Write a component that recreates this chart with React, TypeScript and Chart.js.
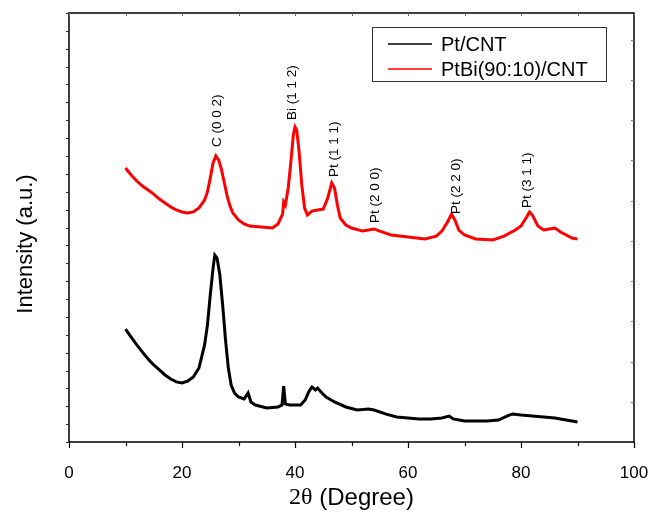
import React, { useEffect, useRef } from 'react';
import { Chart, registerables } from 'chart.js';

Chart.register(...registerables);

const FONT = '"Liberation Sans", Arial, Helvetica, sans-serif';

const seriesNames = ['Pt/CNT', 'PtBi(90:10)/CNT'];
const seriesColors = ['#000000', '#ff0000'];

const ptCntTheta = [
  10, 11, 12, 13, 14, 15, 16, 17, 18, 19, 20, 21, 22, 23, 24, 24.5, 25, 25.5, 25.8, 26.2,
  26.7, 27.2, 27.7, 28.2, 28.7, 29.3, 30, 31, 31.7, 32.2, 33, 35, 37, 37.7, 38, 38.3,
  39, 41, 41.8, 42.5, 43, 43.6, 44, 44.6, 45.5, 47, 49, 51, 53, 54, 56, 58, 60, 62,
  64, 66, 67.3, 68, 70, 72, 74, 76, 77.5, 78.5, 80, 82, 84, 86, 88, 90,
];
const ptCntIntensity = [
  632, 587, 543, 503, 464, 431, 403, 375, 352, 336, 330, 341, 364, 414, 543, 654, 822, 973, 1046, 1029,
  934, 766, 571, 414, 319, 274, 252, 241, 274, 224, 207, 190, 196, 207, 313, 213,
  207, 207, 235, 285, 308, 291, 302, 280, 252, 224, 196, 179, 185, 179, 157, 140, 134, 129,
  129, 134, 145, 129, 117, 117, 117, 123, 145, 157, 151, 145, 140, 134, 123, 112,
];

const ptBiTheta = [
  10, 11, 12, 13, 14, 15, 16, 17, 18, 19, 20, 21, 22, 23, 24, 24.5, 25, 25.5, 26, 26.5,
  27, 27.5, 28, 28.5, 29, 30, 31, 32, 34, 36, 37, 37.8, 38, 38.3, 38.8, 39.3, 39.7, 40,
  40.3, 40.7, 41.2, 41.7, 42.2, 43, 44, 45, 45.8, 46.5, 47, 47.5, 48, 49, 50, 52, 54,
  55, 57, 60, 63, 65, 66, 67, 67.7, 68.3, 69, 70, 72, 75, 77, 79, 80, 81, 81.5, 82,
  83, 84, 85, 86, 87, 88, 89, 90,
];
const ptBiIntensity = [
  1533, 1494, 1460, 1432, 1410, 1387, 1359, 1337, 1315, 1298, 1287, 1281, 1287, 1309, 1354, 1399, 1477, 1561, 1600, 1577,
  1522, 1449, 1376, 1320, 1281, 1242, 1220, 1208, 1203, 1197, 1220, 1275, 1343, 1326, 1421, 1577, 1717, 1762,
  1745, 1633, 1438, 1309, 1270, 1292, 1298, 1303, 1365, 1449, 1421, 1326, 1253, 1214, 1197, 1180, 1192,
  1180, 1158, 1147, 1136, 1152, 1180, 1231, 1275, 1242, 1186, 1158, 1136, 1130, 1152, 1186, 1208, 1259, 1287, 1270,
  1208, 1186, 1192, 1197, 1175, 1158, 1141, 1136,
];

const peakLabels = ['C (0 0 2)', 'Bi (1 1 2)', 'Pt (1 1 1)', 'Pt (2 0 0)', 'Pt (2 2 0)', 'Pt (3 1 1)'];
const peakTheta = [26.2, 39.6, 47.0, 54.2, 68.5, 81.2];
const peakIntensity = [1650, 1801, 1482, 1225, 1275, 1309];

const xTickValues = [0, 10, 20, 30, 40, 50, 60, 70, 80, 90, 100];

const decorPlugin = {
  id: 'decor',
  afterDraw(chart: any) {
    const ctx = chart.ctx as CanvasRenderingContext2D;
    const { left, right, top, bottom } = chart.chartArea;
    const xs = chart.scales.x;
    const ys = chart.scales.y;
    ctx.save();

    // frame
    ctx.strokeStyle = '#000';
    ctx.lineWidth = 1.5;
    ctx.strokeRect(left, top, right - left, bottom - top);

    // bottom ticks (outward)
    ctx.lineWidth = 1.2;
    for (const v of xTickValues) {
      const px = Math.round(xs.getPixelForValue(v)) + 0.5;
      const len = v % 20 === 0 ? 6 : 4;
      ctx.beginPath();
      ctx.moveTo(px, bottom);
      ctx.lineTo(px, bottom + len);
      ctx.stroke();
    }
    // top ticks (inward, faint)
    ctx.strokeStyle = '#666';
    ctx.lineWidth = 1;
    for (const v of xTickValues) {
      const px = Math.round(xs.getPixelForValue(v)) + 0.5;
      ctx.beginPath();
      ctx.moveTo(px, top);
      ctx.lineTo(px, top + 3);
      ctx.stroke();
    }
    // left ticks (outward)
    ctx.strokeStyle = '#222';
    for (let v = 0; v <= 2400; v += 100) {
      const py = Math.round(ys.getPixelForValue(v)) + 0.5;
      ctx.beginPath();
      ctx.moveTo(left - 3, py);
      ctx.lineTo(left, py);
      ctx.stroke();
    }
    // right ticks (inward, faint)
    ctx.strokeStyle = '#777';
    for (let v = 225; v < 2400; v += 225) {
      const py = Math.round(ys.getPixelForValue(v)) + 0.5;
      ctx.beginPath();
      ctx.moveTo(right - 3, py);
      ctx.lineTo(right, py);
      ctx.stroke();
    }

    // peak labels
    ctx.fillStyle = '#000';
    ctx.font = `13.5px ${FONT}`;
    ctx.textAlign = 'left';
    ctx.textBaseline = 'middle';
    peakLabels.forEach((t, i) => {
      const px = xs.getPixelForValue(peakTheta[i]);
      const py = ys.getPixelForValue(peakIntensity[i]);
      ctx.save();
      ctx.translate(px, py);
      ctx.rotate(-Math.PI / 2);
      ctx.fillText(t, 0, 0);
      ctx.restore();
    });

    // legend
    const bx = 372, by = 27, bw = 234, bh = 54;
    ctx.strokeStyle = '#333';
    ctx.lineWidth = 1;
    ctx.strokeRect(bx + 0.5, by + 0.5, bw, bh);
    ctx.font = `20px ${FONT}`;
    ctx.textBaseline = 'middle';
    const rows = [44, 69];
    seriesNames.forEach((name, i) => {
      ctx.strokeStyle = seriesColors[i];
      ctx.lineWidth = 1.5;
      ctx.beginPath();
      ctx.moveTo(388, rows[i]);
      ctx.lineTo(432, rows[i]);
      ctx.stroke();
      ctx.fillStyle = '#000';
      ctx.fillText(name, 441, rows[i] + 1);
    });

    // x title: 2θ (Degree)
    const part1 = '2θ';
    const part2 = ' (Degree)';
    const serif = `24px "Liberation Serif", "Times New Roman", serif`;
    const sans = `24px ${FONT}`;
    ctx.font = serif;
    const w1 = ctx.measureText(part1).width;
    ctx.font = sans;
    const w2 = ctx.measureText(part2).width;
    const cx = (left + right) / 2;
    const sx = cx - (w1 + w2) / 2;
    ctx.textBaseline = 'middle';
    ctx.fillStyle = '#000';
    ctx.font = serif;
    ctx.fillText(part1, sx, 498);
    ctx.font = sans;
    ctx.fillText(part2, sx + w1, 498);

    // y title
    ctx.save();
    ctx.translate(26, 244);
    ctx.rotate(-Math.PI / 2);
    ctx.textAlign = 'center';
    ctx.font = `22px ${FONT}`;
    ctx.fillText('Intensity (a.u.)', 0, 0);
    ctx.restore();

    ctx.restore();
  },
};

export default function App() {
  const ref = useRef<HTMLCanvasElement | null>(null);
  useEffect(() => {
    document.body.style.margin = '0';
    if (!ref.current) return;
    const chart = new Chart(ref.current, {
      type: 'line',
      data: {
        datasets: [
          {
            label: seriesNames[0],
            data: ptCntTheta.map((x, i) => ({ x, y: ptCntIntensity[i] })),
            borderColor: seriesColors[0],
            borderWidth: 3,
            pointRadius: 0,
            tension: 0,
            fill: false,
          },
          {
            label: seriesNames[1],
            data: ptBiTheta.map((x, i) => ({ x, y: ptBiIntensity[i] })),
            borderColor: seriesColors[1],
            borderWidth: 3,
            pointRadius: 0,
            tension: 0,
            fill: false,
          },
        ],
      },
      options: {
        animation: false,
        responsive: false,
        maintainAspectRatio: false,
        layout: { padding: { top: 13, right: 16, left: 0, bottom: 0 } },
        plugins: { legend: { display: false }, tooltip: { enabled: false }, title: { display: false } },
        scales: {
          x: {
            type: 'linear',
            min: 0,
            max: 100,
            afterFit: (s: any) => {
              s.height = 72;
              s.paddingLeft = 0;
              s.paddingRight = 0;
            },
            grid: { display: false, drawTicks: false },
            border: { display: false },
            ticks: {
              stepSize: 20,
              autoSkip: false,
              maxRotation: 0,
              padding: 21,
              color: '#000',
              font: { size: 17, family: FONT },
            },
          },
          y: {
            type: 'linear',
            min: 0,
            max: 2400,
            afterFit: (s: any) => {
              s.width = 69;
              s.paddingTop = 0;
              s.paddingBottom = 0;
            },
            grid: { display: false, drawTicks: false },
            border: { display: false },
            ticks: { display: false },
          },
        },
      },
      plugins: [decorPlugin],
    });
    return () => chart.destroy();
  }, []);
  return <canvas ref={ref} width={650} height={514} style={{ display: 'block' }} />;
}
